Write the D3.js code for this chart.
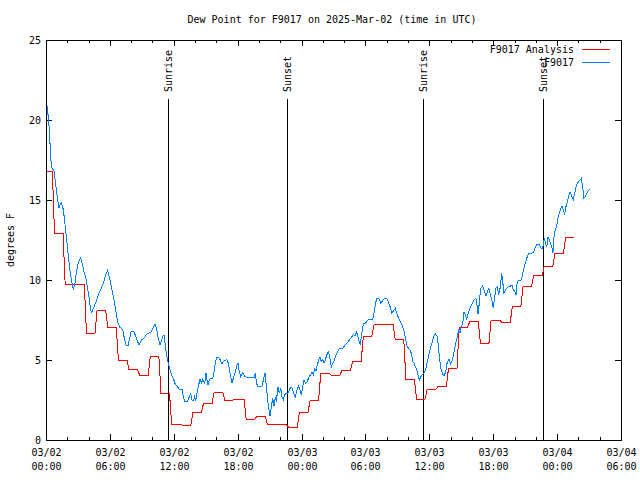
<!DOCTYPE html>
<html><head><meta charset="utf-8">
<script src="https://cdn.jsdelivr.net/npm/d3@7"></script>
<style>
body{margin:0;background:#fff}
text{font-family:"DejaVu Sans Mono","Liberation Mono",monospace;font-size:10px;fill:#000}
</style>
</head><body><svg id="c" width="640" height="480"></svg>
<script>
// ---------- data ----------
const chartTitle = "Dew Point for F9017 on 2025-Mar-02 (time in UTC)";
const yAxisLabel = "degrees F";
const startTime = Date.UTC(2025, 2, 2, 0, 0);
const endTime = Date.UTC(2025, 2, 4, 6, 0);
const yTickValues = [0, 5, 10, 15, 20, 25];
const seriesNames = ["F9017 Analysis", "F9017"];
const seriesColors = ["#ff0000", "#0080ff"];

// hourly analysis values (hour offsets from start)
const analysisHours = d3.range(0, 50);
const analysisValues = [16.8, 12.9, 9.73, 9.73, 6.67, 8.1, 7.04, 5.0, 4.4, 4.04,
  5.23, 2.92, 0.98, 0.92, 1.75, 2.31, 3.0, 2.5, 2.54, 1.29,
  1.48, 0.94, 0.94, 0.8, 1.71, 2.46, 4.15, 4.04, 4.375, 4.92,
  6.48, 7.19, 7.19, 6.29, 3.79, 2.56, 3.17, 3.33, 4.48, 7.06,
  7.4, 6.06, 7.48, 7.35, 8.375, 9.58, 10.29, 10.875, 11.67, 12.67];

// station observations: [hours from start, value]
const observed = [[0.02,21.3],[0.25,20.0],[0.38,18.5],[0.5,17.1],[0.75,16.8],[0.91,16.0],[1.06,15.2],[1.22,14.5],[1.31,14.7],[1.44,14.8],[1.63,14.4],[1.78,13.5],[1.94,12.5],[2.07,11.7],[2.25,10.6],[2.41,9.9],[2.57,9.4],[2.72,9.8],[2.88,10.6],[3.04,11.1],[3.25,11.4],[3.41,11.0],[3.57,10.5],[3.72,10.2],[3.88,9.6],[4.04,8.96],[4.19,8.1],[4.29,7.96],[4.5,8.3],[4.76,8.75],[4.98,9.2],[5.2,9.5],[5.38,9.8],[5.6,10.3],[5.79,10.6],[5.98,10.1],[6.17,9.5],[6.39,8.75],[6.54,8.1],[6.76,7.3],[6.95,7.04],[7.2,6.9],[7.33,6.46],[7.51,5.94],[7.7,5.9],[7.89,6.46],[8.01,6.8],[8.26,6.77],[8.52,6.3],[8.73,5.94],[8.95,6.25],[9.2,6.35],[9.51,6.67],[9.83,6.7],[10.05,6.98],[10.24,7.23],[10.4,6.9],[10.55,6.35],[10.71,5.94],[10.96,6.46],[11.08,6.56],[11.2,5.94],[11.33,5.3],[11.49,4.8],[11.65,4.375],[11.8,4.06],[11.96,3.85],[12.11,3.54],[12.33,3.33],[12.52,3.17],[12.77,3.17],[12.9,2.71],[13.05,2.4],[13.27,2.4],[13.46,2.71],[13.59,2.875],[13.71,2.5],[13.84,2.46],[13.96,2.71],[14.06,2.46],[14.15,2.81],[14.34,3.44],[14.46,3.79],[14.59,3.54],[14.72,3.79],[14.9,3.54],[15.03,4.17],[15.12,3.75],[15.21,3.44],[15.34,3.75],[15.47,3.85],[15.65,3.85],[15.78,4.27],[15.9,4.8],[16.03,5.17],[16.22,5.17],[16.4,4.96],[16.53,4.73],[16.65,4.9],[16.78,4.96],[16.97,5.04],[17.12,4.8],[17.28,4.17],[17.47,3.54],[17.59,3.85],[17.75,4.17],[17.91,4.63],[18.03,4.8],[18.15,4.27],[18.28,3.96],[18.47,4.2],[18.69,3.96],[18.91,3.92],[19.56,3.92],[19.66,4.17],[19.75,3.65],[19.85,3.375],[20.29,3.375],[20.41,3.75],[20.57,4.2],[20.73,3.125],[20.88,2.08],[21.04,1.5],[21.16,2.08],[21.29,2.6],[21.41,2.125],[21.54,2.71],[21.63,2.4],[21.79,3.33],[21.91,2.92],[22.04,3.23],[22.16,2.71],[22.29,2.5],[22.41,2.81],[22.54,2.92],[22.73,2.92],[22.92,3.23],[23.07,3.29],[23.22,3.02],[23.41,2.67],[23.57,3.125],[23.73,3.375],[23.85,3.125],[23.98,2.81],[24.1,3.33],[24.23,3.75],[24.39,3.54],[24.54,3.65],[24.7,3.96],[24.86,4.06],[24.98,4.27],[25.1,4.06],[25.23,4.42],[25.36,4.33],[25.48,4.69],[25.61,5.0],[25.73,5.17],[25.86,4.9],[25.98,5.04],[26.11,4.79],[26.23,5.0],[26.36,5.3],[26.51,5.52],[26.64,5.2],[26.8,4.58],[26.92,4.79],[27.08,5.0],[27.24,5.3],[27.4,5.52],[27.55,5.73],[27.86,5.73],[28.08,5.94],[28.29,6.08],[28.48,6.25],[28.67,6.4],[28.86,6.6],[29.02,6.5],[29.18,6.77],[29.3,6.46],[29.42,6.15],[29.52,5.94],[29.65,6.67],[29.8,7.25],[29.99,7.29],[30.17,7.46],[30.36,7.54],[30.68,7.54],[30.8,7.92],[30.93,8.44],[31.05,8.85],[31.24,8.85],[31.43,8.58],[31.62,8.71],[31.77,8.85],[32.0,8.85],[32.18,8.58],[32.37,8.23],[32.49,7.92],[32.68,8.125],[32.81,8.23],[32.94,7.92],[33.13,7.6],[33.31,7.33],[33.5,7.08],[33.65,6.77],[33.78,6.25],[33.93,5.83],[34.18,5.625],[34.31,5.42],[34.44,4.9],[34.57,4.79],[34.69,4.58],[34.82,4.375],[34.94,4.06],[35.07,3.75],[35.2,3.96],[35.38,4.1],[35.5,4.17],[35.69,4.48],[35.88,5.1],[36.06,5.625],[36.25,6.08],[36.44,6.5],[36.56,6.625],[36.75,6.46],[36.91,5.42],[37.07,4.48],[37.22,4.17],[37.38,4.0],[37.54,4.27],[37.69,4.9],[37.85,5.04],[38.0,4.75],[38.16,5.0],[38.32,5.52],[38.48,6.08],[38.63,6.46],[38.76,6.875],[38.88,6.67],[39.01,7.08],[39.14,7.29],[39.26,8.02],[39.38,7.81],[39.51,7.54],[39.66,7.92],[39.82,8.23],[40.0,8.5],[40.19,8.75],[40.38,8.85],[40.5,8.33],[40.57,7.875],[40.69,8.54],[40.82,9.48],[41.01,9.625],[41.2,9.27],[41.32,9.0],[41.45,9.27],[41.58,9.48],[41.7,9.17],[41.89,8.65],[42.01,8.23],[42.14,8.96],[42.26,9.48],[42.39,9.58],[42.51,9.06],[42.64,9.48],[42.8,10.42],[42.89,9.9],[43.01,9.17],[43.14,9.375],[43.27,9.48],[43.45,9.625],[43.64,9.625],[43.76,9.69],[43.89,9.375],[44.01,9.33],[44.14,9.06],[44.26,9.9],[44.39,9.96],[44.58,9.96],[44.7,10.17],[44.83,10.625],[45.01,11.04],[45.14,11.35],[45.33,11.67],[45.58,11.67],[45.76,11.71],[45.95,12.04],[46.14,12.25],[46.33,12.19],[46.45,12.04],[46.58,11.92],[46.7,12.19],[46.8,12.6],[46.89,12.4],[47.02,12.04],[47.14,12.67],[47.27,12.5],[47.39,12.29],[47.52,11.98],[47.61,11.67],[47.71,12.71],[47.83,13.125],[47.96,13.375],[48.08,13.85],[48.2,14.17],[48.33,14.42],[48.45,14.625],[48.58,14.375],[48.71,14.125],[48.83,14.58],[48.96,14.9],[49.08,15.25],[49.21,15.52],[49.33,15.31],[49.52,15.04],[49.68,15.52],[49.83,15.94],[50.02,16.15],[50.27,16.35],[50.4,15.83],[50.52,15.1],[50.68,15.25],[50.83,15.46],[51.02,15.67]];

// sun events: [label, hours from start]
const sunEvents = [["Sunrise", 11.48], ["Sunset", 22.66], ["Sunrise", 35.43], ["Sunset", 46.7]];

// ---------- drawing ----------
const L = 46, R = 621, T = 40, B = 440;
const svg = d3.select("#c");
const hrs = h => new Date(startTime + h * 3600e3);

const x = d3.scaleUtc().domain([new Date(startTime), new Date(endTime)]).range([L, R]);
const y = d3.scaleLinear().domain([0, 25]).range([B, T]);

// title
svg.append("text").attr("x", 332).attr("y", 23).attr("text-anchor", "middle").text(chartTitle);
// y label
svg.append("text").attr("transform", "translate(14,240) rotate(-90)").attr("text-anchor", "middle").text(yAxisLabel);

const g = svg.append("g").attr("shape-rendering", "crispEdges");

// y ticks (left and right, inward)
yTickValues.forEach(v => {
  const yy = Math.round(y(v)) + 0.5;
  g.append("line").attr("x1", L).attr("x2", L + 6).attr("y1", yy).attr("y2", yy).attr("stroke", "#000");
  g.append("line").attr("x1", R - 6).attr("x2", R).attr("y1", yy).attr("y2", yy).attr("stroke", "#000");
  svg.append("text").attr("x", 41).attr("y", yy).attr("dy", "0.35em").attr("text-anchor", "end").text(v);
});

// x ticks
const minorTicks = d3.utcHour.every(2).range(new Date(startTime), new Date(endTime + 1));
const majorTicks = d3.utcHour.every(6).range(new Date(startTime), new Date(endTime + 1));
minorTicks.forEach(d => {
  const xx = Math.round(x(d)) + 0.5;
  g.append("line").attr("x1", xx).attr("x2", xx).attr("y1", B).attr("y2", B - 3).attr("stroke", "#000");
  g.append("line").attr("x1", xx).attr("x2", xx).attr("y1", T).attr("y2", T + 3).attr("stroke", "#000");
});
const fmtD = d3.utcFormat("%m/%d"), fmtH = d3.utcFormat("%H:%M");
majorTicks.forEach(d => {
  const xx = Math.round(x(d)) + 0.5;
  g.append("line").attr("x1", xx).attr("x2", xx).attr("y1", B).attr("y2", B - 6).attr("stroke", "#000");
  g.append("line").attr("x1", xx).attr("x2", xx).attr("y1", T).attr("y2", T + 6).attr("stroke", "#000");
  const t = svg.append("text").attr("text-anchor", "middle");
  t.append("tspan").attr("x", xx).attr("y", 456).text(fmtD(d));
  t.append("tspan").attr("x", xx).attr("y", 470).text(fmtH(d));
});

// sun event lines
sunEvents.forEach(([lab, h]) => {
  const xx = Math.round(x(hrs(h))) + 0.5;
  g.append("line").attr("x1", xx).attr("x2", xx).attr("y1", 99).attr("y2", B).attr("stroke", "#000");
  svg.append("text").attr("transform", `translate(${xx},92) rotate(-90)`).attr("dy", "0.35em").text(lab);
});

// analysis (step-like) line
const aPts = [];
analysisHours.forEach((h, i) => {
  aPts.push([Math.max(0, h - 0.2), analysisValues[i]]);
  aPts.push([h + 0.6, analysisValues[i]]);
});
const line = d3.line().x(d => x(hrs(d[0]))).y(d => y(d[1]));
g.append("path").attr("d", line(aPts)).attr("fill", "none").attr("stroke", seriesColors[0]).attr("stroke-width", 1);
g.append("path").attr("d", line(observed)).attr("fill", "none").attr("stroke", seriesColors[1]).attr("stroke-width", 1);

// frame
g.append("rect").attr("x", L + 0.5).attr("y", T + 0.5).attr("width", R - L).attr("height", B - T)
  .attr("fill", "none").attr("stroke", "#000");

// legend
seriesNames.forEach((n, i) => {
  const yy = 49 + i * 13;
  svg.append("text").attr("x", 574).attr("y", yy).attr("dy", "0.35em").attr("text-anchor", "end").text(n);
  g.append("line").attr("x1", 582).attr("x2", 610).attr("y1", yy + 0.5).attr("y2", yy + 0.5).attr("stroke", seriesColors[i]);
});
</script>
</body></html>
